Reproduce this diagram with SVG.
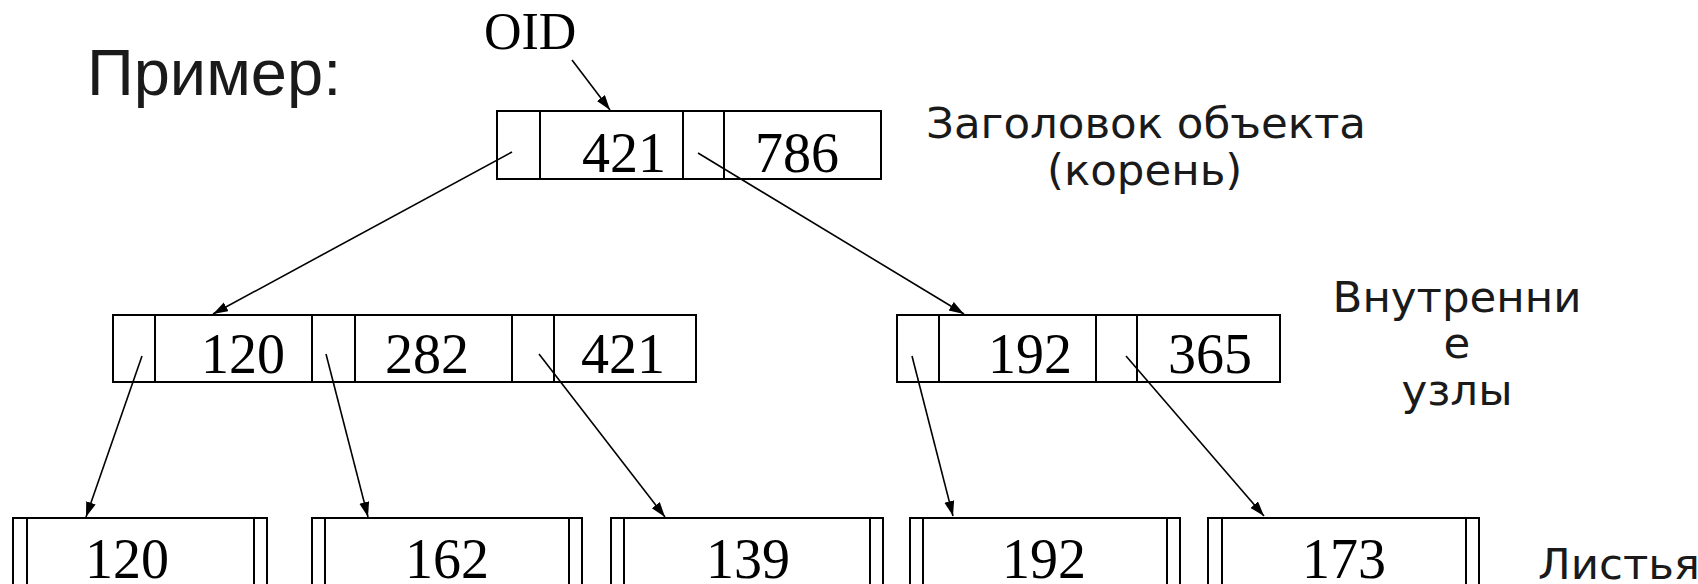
<svg xmlns="http://www.w3.org/2000/svg" width="1698" height="584" viewBox="0 0 1698 584">
<style>
.box{fill:#fff;stroke:#000;stroke-width:2}
.div{stroke:#000;stroke-width:2}
.num{font-family:"Liberation Serif",serif;font-size:56px;text-anchor:middle;fill:#000}
.lbl{font-family:"DejaVu Sans",sans-serif;font-size:43.5px;fill:#1a1a1a}
.conn line{stroke:#000;stroke-width:1.6;marker-end:url(#ah)}
</style>
<defs>
<marker id="ah" markerUnits="userSpaceOnUse" markerWidth="16" markerHeight="12" refX="15" refY="5" orient="auto">
<path d="M0,0 L15,5 L0,10 z" fill="#000"/>
</marker>
</defs>
<rect width="1698" height="584" fill="#fff"/>
<text x="87" y="95" font-family="Liberation Sans, sans-serif" font-size="65" fill="#1a1a1a">Пример:</text>
<text x="484" y="49" font-family="Liberation Serif, serif" font-size="52" fill="#000">OID</text>

<g id="root">
<rect class="box" x="497" y="111" width="384" height="68"/>
<line class="div" x1="540" y1="111" x2="540" y2="179"/>
<line class="div" x1="683" y1="111" x2="683" y2="179"/>
<line class="div" x1="724" y1="111" x2="724" y2="179"/>
<text class="num" x="624" y="172">421</text>
<text class="num" x="797" y="172">786</text>
</g>

<g id="inner-left">
<rect class="box" x="113" y="315" width="583" height="67"/>
<line class="div" x1="155" y1="315" x2="155" y2="382"/>
<line class="div" x1="312" y1="315" x2="312" y2="382"/>
<line class="div" x1="355" y1="315" x2="355" y2="382"/>
<line class="div" x1="512" y1="315" x2="512" y2="382"/>
<line class="div" x1="554" y1="315" x2="554" y2="382"/>
<text class="num" x="243" y="373">120</text>
<text class="num" x="427" y="373">282</text>
<text class="num" x="623" y="373">421</text>
</g>

<g id="inner-right">
<rect class="box" x="897" y="315" width="383" height="67"/>
<line class="div" x1="939" y1="315" x2="939" y2="382"/>
<line class="div" x1="1096" y1="315" x2="1096" y2="382"/>
<line class="div" x1="1137" y1="315" x2="1137" y2="382"/>
<text class="num" x="1030" y="373">192</text>
<text class="num" x="1210" y="373">365</text>
</g>

<g id="leaf1">
<rect class="box" x="13" y="518" width="254" height="90"/>
<line class="div" x1="27" y1="518" x2="27" y2="600"/>
<line class="div" x1="254" y1="518" x2="254" y2="600"/>
<text class="num" x="127" y="578">120</text>
</g>
<g id="leaf2">
<rect class="box" x="312" y="518" width="270" height="90"/>
<line class="div" x1="325" y1="518" x2="325" y2="600"/>
<line class="div" x1="569" y1="518" x2="569" y2="600"/>
<text class="num" x="447" y="578">162</text>
</g>
<g id="leaf3">
<rect class="box" x="611" y="518" width="272" height="90"/>
<line class="div" x1="624" y1="518" x2="624" y2="600"/>
<line class="div" x1="870" y1="518" x2="870" y2="600"/>
<text class="num" x="748" y="578">139</text>
</g>
<g id="leaf4">
<rect class="box" x="910" y="518" width="270" height="90"/>
<line class="div" x1="923" y1="518" x2="923" y2="600"/>
<line class="div" x1="1167" y1="518" x2="1167" y2="600"/>
<text class="num" x="1044" y="578">192</text>
</g>
<g id="leaf5">
<rect class="box" x="1208" y="518" width="271" height="90"/>
<line class="div" x1="1222" y1="518" x2="1222" y2="600"/>
<line class="div" x1="1466" y1="518" x2="1466" y2="600"/>
<text class="num" x="1344" y="578">173</text>
</g>

<g id="labels">
<text class="lbl" x="926" y="138">Заголовок объекта</text>
<text class="lbl" x="1047" y="185">(корень)</text>
<text class="lbl" x="1457" y="312" text-anchor="middle">Внутренни</text>
<text class="lbl" x="1457" y="358" text-anchor="middle">е</text>
<text class="lbl" x="1457" y="405" text-anchor="middle">узлы</text>
<text class="lbl" x="1538" y="579">Листья</text>
</g>

<g id="connectors" class="conn">
<line x1="572" y1="60" x2="610" y2="110"/>
<line x1="512" y1="152" x2="213" y2="314"/>
<line x1="698" y1="153" x2="964" y2="314"/>
<line x1="142" y1="356" x2="86" y2="517"/>
<line x1="326" y1="354" x2="368" y2="517"/>
<line x1="539" y1="354" x2="665" y2="517"/>
<line x1="912" y1="356" x2="953" y2="516"/>
<line x1="1126" y1="356" x2="1264" y2="516"/>
</g>
</svg>
